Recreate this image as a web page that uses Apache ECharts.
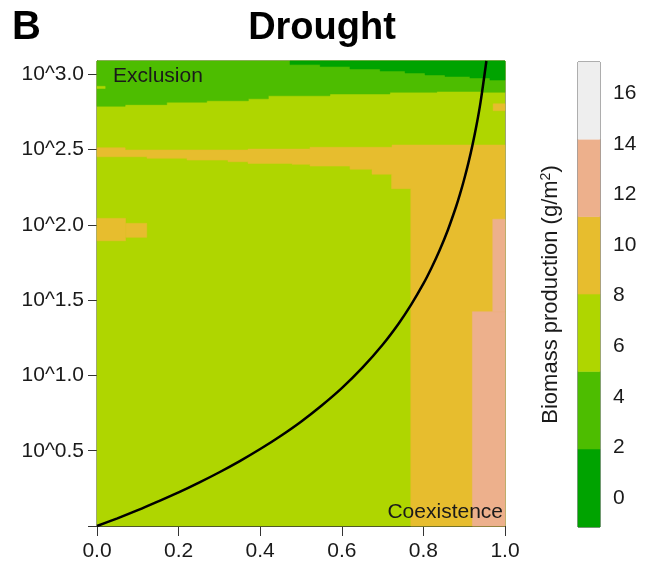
<!DOCTYPE html>
<html>
<head>
<meta charset="utf-8">
<script src="https://cdn.jsdelivr.net/npm/echarts@6/dist/echarts.min.js"></script>
<style>
  html, body { margin: 0; padding: 0; background: #ffffff; }
  #chart { width: 653px; height: 574px; }
</style>
</head>
<body>
<div id="chart"></div>
<script>
// Biomass production levels (g/m^2): band edges and band colours
const levelBreaks = [-1.14, 1.94, 5.0, 8.06, 11.12, 14.18, 17.23];
const levelColors = ['#00A300', '#4DBD00', '#AFD600', '#E7BD2E', '#EDB08C', '#EEEEEE'];

// Axis ticks
const xTicks = [0, 0.2, 0.4, 0.6, 0.8, 1.0];
const yTicks = [0, 0.5, 1.0, 1.5, 2.0, 2.5, 3.0];
const barTicks = [0, 2, 4, 6, 8, 10, 12, 14, 16];
const yTop = 3.088;

// Stepped contour edges: x breakpoints and the edge height over each interval
const darkEdgeX = [0.473, 0.547, 0.620, 0.694, 0.755, 0.804, 0.853, 0.914, 0.963, 1.0];
const darkEdgeY = [3.064, 3.051, 3.035, 3.021, 3.008, 2.995, 2.985, 2.975, 2.961];

const greenEdgeX = [0, 0.069, 0.171, 0.269, 0.371, 0.420, 0.571, 0.718, 0.833, 0.944, 1.0];
const greenEdgeY = [2.787, 2.798, 2.814, 2.824, 2.837, 2.857, 2.869, 2.880, 2.886, 2.880];

const orangeTopX = [0, 0.069, 0.370, 0.522, 0.723, 1.0];
const orangeTopY = [2.512, 2.497, 2.503, 2.515, 2.530];
const orangeBottomX = [0, 0.1225, 0.2206, 0.321, 0.370, 0.478, 0.522, 0.620, 0.674, 0.722, 0.769];
const orangeBottomY = [2.452, 2.442, 2.430, 2.419, 2.408, 2.402, 2.390, 2.369, 2.336, 2.240];

// Rectangular patches: [x0, x1, y0, y1, level]
const patches = [
  [0.000, 0.070, 1.894, 2.043, 3],
  [0.070, 0.122, 1.917, 2.010, 3],
  [0.971, 1.000, 2.758, 2.804, 3],
  [0.920, 1.000, 0.000, 1.423, 4],
  [0.970, 1.000, 1.423, 2.037, 4],
  [0.000, 0.020, 2.905, 2.920, 2]
];

// Exclusion / coexistence boundary
const boundaryX = [0, 0.05, 0.1, 0.15, 0.2, 0.25, 0.3, 0.35, 0.4, 0.45, 0.5, 0.55, 0.6, 0.65, 0.7, 0.74, 0.77, 0.8, 0.82, 0.84, 0.86, 0.88, 0.89, 0.9, 0.91, 0.92, 0.93, 0.94, 0.9544];
const boundaryY = [0, 0.051, 0.105, 0.163, 0.223, 0.288, 0.357, 0.431, 0.511, 0.598, 0.693, 0.799, 0.916, 1.050, 1.204, 1.347, 1.470, 1.609, 1.715, 1.833, 1.966, 2.120, 2.207, 2.303, 2.408, 2.526, 2.659, 2.813, 3.088];

// ---- build polygons (data coordinates) ----
function stepPath(xs, ys) {
  const pts = [];
  for (let i = 0; i < ys.length; i++) {
    pts.push([xs[i], ys[i]]);
    pts.push([xs[i + 1], ys[i]]);
  }
  return pts;
}
function rect(x0, x1, y0, y1) {
  return [[x0, y0], [x1, y0], [x1, y1], [x0, y1]];
}

const regions = [];
regions.push({ level: 2, pts: rect(0, 1, 0, yTop) });
regions.push({ level: 1, pts: [[0, yTop]].concat(stepPath(greenEdgeX, greenEdgeY), [[1, yTop]]) });
regions.push({ level: 0, pts: [[darkEdgeX[0], yTop]].concat(stepPath(darkEdgeX, darkEdgeY), [[1, yTop]]) });
regions.push({
  level: 3,
  pts: stepPath(orangeTopX, orangeTopY)
    .concat([[1, 0], [orangeBottomX[orangeBottomX.length - 1], 0]])
    .concat(stepPath(orangeBottomX, orangeBottomY).reverse())
});
patches.forEach(function (p) { regions.push({ level: p[4], pts: rect(p[0], p[1], p[2], p[3]) }); });

const boundaryData = boundaryX.map(function (x, i) { return [x, boundaryY[i]]; });

const FONT = 'Liberation Sans, Arial, Helvetica, sans-serif';
const INK = '#1a1a1a';
const FS = 21;

const chart = echarts.init(document.getElementById('chart'), null, { renderer: 'canvas' });

chart.setOption({
  animation: false,
  backgroundColor: '#ffffff',
  grid: [
    { left: 97, top: 61, width: 408, height: 465, show: true, borderColor: '#333', borderWidth: 1, backgroundColor: 'transparent' },
    { left: 578, top: 62, width: 22, height: 465, show: true, borderColor: '#333', borderWidth: 1, backgroundColor: 'transparent' }
  ],
  xAxis: [
    {
      gridIndex: 0, type: 'value', min: 0, max: 1, interval: 0.2,
      axisLine: { show: true, lineStyle: { color: '#333', width: 1 } },
      axisTick: { show: true, length: 10, lineStyle: { color: '#333' } },
      axisLabel: { show: true, showMinLabel: true, showMaxLabel: true, margin: 15, fontSize: FS, color: INK, fontFamily: FONT,
        formatter: function (v) { return v.toFixed(1); } },
      splitLine: { show: false }
    },
    { gridIndex: 1, type: 'value', min: 0, max: 1, show: false }
  ],
  yAxis: [
    {
      gridIndex: 0, type: 'value', min: 0, max: yTop,
      axisLine: { show: true, lineStyle: { color: '#333', width: 1 } },
      axisTick: { show: true, length: 9, customValues: yTicks, lineStyle: { color: '#333' } },
      axisLabel: { show: true, margin: 13, fontSize: FS, color: INK, fontFamily: FONT, customValues: yTicks,
        formatter: function (v) { return v === 0 ? '' : '10^' + v.toFixed(1); } },
      splitLine: { show: false }
    },
    {
      gridIndex: 1, type: 'value', position: 'right', min: levelBreaks[0], max: levelBreaks[levelBreaks.length - 1],
      axisLine: { show: false },
      axisTick: { show: true, length: 8, customValues: barTicks, lineStyle: { color: '#333' } },
      axisLabel: { show: true, margin: 13, fontSize: FS, color: INK, fontFamily: FONT, customValues: barTicks },
      splitLine: { show: false }
    },
    {
      gridIndex: 1, type: 'value', position: 'left', min: levelBreaks[0], max: levelBreaks[levelBreaks.length - 1],
      axisLine: { show: false }, axisTick: { show: false }, axisLabel: { show: false }, splitLine: { show: false },
      name: 'Biomass production (g/m{sup|2})',
      nameLocation: 'middle', nameRotate: 90, nameGap: 15,
      nameTextStyle: {
        fontSize: 22, color: INK, fontFamily: FONT,
        rich: { sup: { fontSize: 14, color: INK, fontFamily: FONT, verticalAlign: 'top', padding: [0, 0, 10, 0] } }
      }
    }
  ],
  series: [
    {
      type: 'custom',
      xAxisIndex: 0, yAxisIndex: 0,
      silent: true,
      data: regions.map(function (r) { return r.pts[0]; }),
      renderItem: function (params, api) {
        const r = regions[params.dataIndex];
        const points = r.pts.map(function (p) { return api.coord(p); });
        return {
          type: 'polygon',
          shape: { points: points },
          style: { fill: levelColors[r.level], stroke: levelColors[r.level], lineWidth: 0.5 }
        };
      }
    },
    {
      type: 'line',
      xAxisIndex: 0, yAxisIndex: 0,
      data: boundaryData,
      smooth: 0.3,
      symbol: 'none',
      silent: true,
      clip: true,
      lineStyle: { color: '#000000', width: 2.5 }
    },
    {
      type: 'custom',
      xAxisIndex: 1, yAxisIndex: 1,
      silent: true,
      data: levelColors.map(function (c, i) { return [0, levelBreaks[i]]; }),
      renderItem: function (params, api) {
        const i = params.dataIndex;
        const a = api.coord([0, levelBreaks[i]]);
        const b = api.coord([1, levelBreaks[i + 1]]);
        return {
          type: 'rect',
          shape: { x: a[0], y: b[1], width: b[0] - a[0], height: a[1] - b[1] },
          style: { fill: levelColors[i], stroke: levelColors[i], lineWidth: 0.5 }
        };
      }
    }
  ],
  graphic: [
    { type: 'text', z: 100, style: { text: 'B', x: 12, y: 28, textVerticalAlign: 'middle', font: 'bold 40px ' + FONT, fill: '#000' } },
    { type: 'text', z: 100, style: { text: 'Drought', x: 322, y: 29, textAlign: 'center', textVerticalAlign: 'middle', font: 'bold 38px ' + FONT, fill: '#000' } },
    { type: 'text', z: 100, style: { text: 'Exclusion', x: 113, y: 76, textVerticalAlign: 'middle', font: '21px ' + FONT, fill: INK } },
    { type: 'text', z: 100, style: { text: 'Coexistence', x: 503, y: 512, textAlign: 'right', textVerticalAlign: 'middle', font: '21px ' + FONT, fill: INK } }
  ]
});
</script>
</body>
</html>
